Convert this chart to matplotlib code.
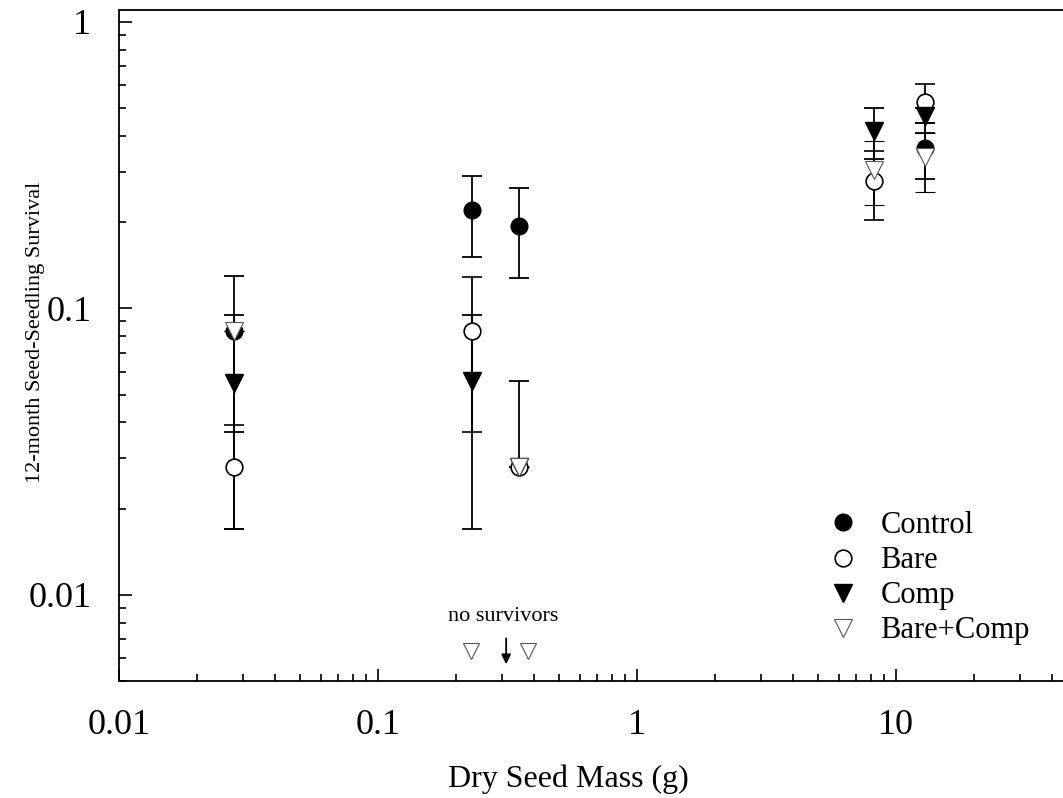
import matplotlib
matplotlib.use("Agg")
import matplotlib.pyplot as plt
from matplotlib.lines import Line2D
import numpy as np

plt.rcParams['font.family'] = ['Liberation Serif', 'DejaVu Serif']

# seed mass (g) of the five species
mass = [0.0278, 0.231, 0.350, 8.2, 12.9]

# survival and error bar ends (lo, hi); nan = not shown
control = [0.083, 0.221, 0.193, np.nan, 0.364]
control_lo = [0.037, 0.151, 0.128, np.nan, 0.282]
control_hi = [0.130, 0.290, 0.262, np.nan, 0.445]

bare = [0.028, 0.083, 0.028, 0.277, 0.526]
bare_lo = [0.017, 0.037, np.nan, 0.203, 0.445]
bare_hi = [0.039, 0.129, np.nan, 0.353, 0.608]

comp = [0.055, 0.0557, 0.028, 0.414, 0.467]
comp_lo = [0.017, 0.017, np.nan, 0.333, 0.410]
comp_hi = [0.095, 0.095, 0.0557, 0.500, 0.500]

barecomp = [0.083, np.nan, 0.028, 0.305, 0.336]
barecomp_lo = [np.nan, np.nan, np.nan, 0.229, 0.254]
barecomp_hi = [np.nan, np.nan, np.nan, 0.385, 0.410]

# species with no survivors in Bare+Comp
none_mass = [0.229, 0.38]
none_y = [0.00638, 0.00638]

fig = plt.figure(figsize=(10.63, 7.98), dpi=100)
ax = fig.add_axes([0.112, 0.1466, 0.888, 0.841])


def draw(y, lo, hi, **kw):
    y = np.array(y, dtype=float)
    lo = np.array(lo, dtype=float)
    hi = np.array(hi, dtype=float)
    err = np.vstack([np.nan_to_num(y - lo), np.nan_to_num(hi - y)])
    ax.errorbar(mass, y, yerr=err, ls="none", ecolor="black", elinewidth=1.3,
                capsize=7, capthick=1.3, **kw)


draw(control, control_lo, control_hi, marker="o", ms=12, mfc="black", mec="black")
draw(bare, bare_lo, bare_hi, marker="o", ms=12, mfc="white", mec="black", mew=1.2)
draw(comp, comp_lo, comp_hi, marker="v", ms=13, mfc="black", mec="black")
draw(barecomp, barecomp_lo, barecomp_hi, marker="v", ms=13, mfc="white", mec="#555555", mew=0.8)

ax.plot(none_mass, none_y, ls="none", marker="v", ms=11, mfc="white", mec="#555555", mew=0.8)
ax.annotate("", xy=(0.312, 0.0056), xytext=(0.312, 0.0072),
            arrowprops=dict(arrowstyle="-|>", color="black", lw=1.3, mutation_scale=14))
ax.text(0.304, 0.0084, "no survivors", ha="center", va="center", fontsize=16)

ax.set_xscale("log")
ax.set_yscale("log")
ax.set_xlim(0.01, 44)
ax.set_ylim(0.005, 1.1)
ax.set_xticks([0.01, 0.1, 1, 10])
ax.set_xticklabels(["0.01", "0.1", "1", "10"])
ax.set_yticks([0.01, 0.1, 1])
ax.set_yticklabels(["0.01", "0.1", "1"])
ax.tick_params(which="both", direction="in", labelsize=26, width=1.2)
ax.tick_params(which="major", length=9, pad=20)
ax.tick_params(which="minor", length=5)
ax.spines["right"].set_visible(False)
for s in ["left", "bottom", "top"]:
    ax.spines[s].set_linewidth(1.3)

ax.set_xlabel("Dry Seed Mass (g)", fontsize=23)
ax.set_ylabel("12-month Seed-Seedling Survival", fontsize=16)
ax.xaxis.set_label_coords(0.476, -0.125)
ax.yaxis.set_label_coords(-0.078, 0.52)

# legend
handles = [
    Line2D([], [], ls="none", marker="o", ms=12, mfc="black", mec="black"),
    Line2D([], [], ls="none", marker="o", ms=12, mfc="white", mec="black", mew=1.2),
    Line2D([], [], ls="none", marker="v", ms=13, mfc="black", mec="black"),
    Line2D([], [], ls="none", marker="v", ms=13, mfc="white", mec="#555555", mew=0.8),
]
ax.legend(handles, ["Control", "Bare", "Comp", "Bare+Comp"], loc="lower left",
          bbox_to_anchor=(0.719, 0.012), frameon=False, fontsize=22,
          handlelength=1.15, handletextpad=0.65, labelspacing=0.2)

fig.savefig("out.png", dpi=100)
